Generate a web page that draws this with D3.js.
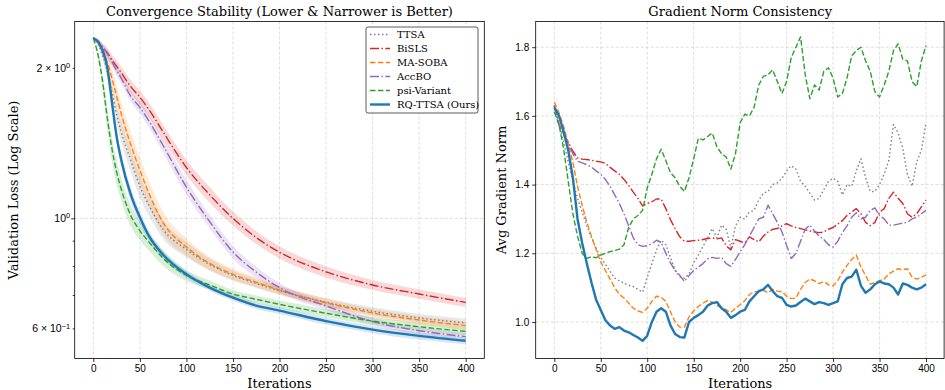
<!DOCTYPE html>
<html>
<head>
  <meta charset="utf-8">
  <title>Convergence Stability and Gradient Norm</title>
  <script src="https://d3js.org/d3.v7.min.js"></script>
  <style>
    body { margin: 0; background: #fff; }
    svg { font-family: "DejaVu Serif", serif; }
    .grid line { stroke: #b0b0b0; stroke-opacity: 0.55; stroke-dasharray: 3,2; stroke-width: 0.8; }
    .axis path, .axis line { stroke: #000; stroke-width: 0.8; }
    .axis text { font-size: 10px; fill: #000; }
    .title { font-size: 13px; }
    .label { font-size: 13px; }
    .legend text { font-size: 10px; }
  </style>
</head>
<body>
  <script>
    const names = ["TTSA", "BiSLS", "MA-SOBA", "AccBO", "psi-Variant", "RQ-TTSA (Ours)"];

    // left panel: validation loss (mean) and spread, sampled at these iterations
    const iterLoss = [0, 5, 10, 15, 20, 25, 30, 40, 50, 60, 75, 100, 125, 150, 175, 200, 250, 300, 350, 400];
    const lossTTSA   = [2.30, 2.24, 2.12, 1.97, 1.79, 1.62, 1.49, 1.31, 1.16, 1.06, 0.95, 0.866, 0.808, 0.768, 0.740, 0.716, 0.679, 0.651, 0.631, 0.617];
    const lossBiSLS  = [2.30, 2.26, 2.20, 2.15, 2.08, 2.02, 1.96, 1.84, 1.75, 1.65, 1.49, 1.265, 1.115, 1.0, 0.915, 0.855, 0.781, 0.735, 0.705, 0.678];
    const lossMASOBA = [2.30, 2.26, 2.17, 2.06, 1.91, 1.76, 1.62, 1.41, 1.25, 1.12, 0.98, 0.876, 0.812, 0.772, 0.744, 0.718, 0.677, 0.646, 0.625, 0.609];
    const lossAccBO  = [2.30, 2.27, 2.21, 2.14, 2.06, 1.98, 1.91, 1.76, 1.67, 1.565, 1.40, 1.155, 0.985, 0.856, 0.78, 0.726, 0.667, 0.621, 0.595, 0.579];
    const lossPsi    = [2.30, 2.13, 1.88, 1.59, 1.38, 1.24, 1.145, 1.015, 0.945, 0.895, 0.832, 0.768, 0.735, 0.705, 0.688, 0.672, 0.645, 0.622, 0.606, 0.593];
    const lossRQ     = [2.30, 2.26, 2.17, 2.01, 1.71, 1.46, 1.31, 1.12, 1.005, 0.92, 0.845, 0.772, 0.726, 0.693, 0.668, 0.653, 0.622, 0.598, 0.581, 0.568];

    const sdTTSA   = [0, 0.02, 0.04, 0.06, 0.07, 0.07, 0.07, 0.065, 0.06, 0.05, 0.04, 0.03, 0.022, 0.018, 0.015, 0.013, 0.012, 0.012, 0.012, 0.012];
    const sdBiSLS  = [0, 0.03, 0.04, 0.05, 0.05, 0.055, 0.055, 0.055, 0.055, 0.055, 0.05, 0.045, 0.04, 0.032, 0.027, 0.024, 0.02, 0.017, 0.015, 0.014];
    const sdMASOBA = [0, 0.03, 0.06, 0.08, 0.09, 0.09, 0.09, 0.085, 0.075, 0.065, 0.05, 0.035, 0.025, 0.02, 0.017, 0.015, 0.013, 0.012, 0.012, 0.012];
    const sdAccBO  = [0, 0.02, 0.03, 0.04, 0.045, 0.045, 0.045, 0.045, 0.045, 0.045, 0.045, 0.04, 0.03, 0.025, 0.02, 0.016, 0.012, 0.01, 0.01, 0.01];
    const sdPsi    = [0, 0.05, 0.07, 0.08, 0.08, 0.07, 0.06, 0.05, 0.04, 0.035, 0.03, 0.02, 0.015, 0.013, 0.012, 0.012, 0.012, 0.012, 0.012, 0.012];
    const sdRQ     = [0, 0.02, 0.03, 0.04, 0.045, 0.045, 0.04, 0.035, 0.03, 0.022, 0.016, 0.012, 0.01, 0.01, 0.01, 0.01, 0.01, 0.01, 0.01, 0.01];

    // right panel: average gradient norm, every 5 iterations from 0 to 400
    const iterGrad = d3.range(0, 401, 5);
    const gradTTSA = [1.63, 1.575, 1.525, 1.466, 1.41, 1.36, 1.32, 1.28, 1.245, 1.215, 1.188, 1.168, 1.148, 1.128, 1.12, 1.113, 1.107, 1.103, 1.095, 1.087,
      1.13, 1.17, 1.21, 1.238, 1.225, 1.188, 1.15, 1.132, 1.127, 1.14, 1.172, 1.195, 1.22, 1.245, 1.272, 1.245, 1.282, 1.27, 1.215, 1.28,
      1.305, 1.30, 1.32, 1.325, 1.355, 1.375, 1.38, 1.40, 1.405, 1.418, 1.44, 1.455, 1.445, 1.41, 1.395, 1.375, 1.355, 1.36, 1.385, 1.41,
      1.418, 1.41, 1.37, 1.40, 1.395, 1.44, 1.475, 1.42, 1.38, 1.38, 1.40, 1.43, 1.47, 1.575, 1.55, 1.505, 1.43, 1.395, 1.466, 1.50, 1.58];
    const gradBiSLS = [1.63, 1.575, 1.545, 1.524, 1.497, 1.478, 1.474, 1.473, 1.471, 1.468, 1.466, 1.462, 1.45, 1.44, 1.43, 1.415, 1.398, 1.378, 1.36, 1.338,
      1.345, 1.35, 1.358, 1.358, 1.33, 1.298, 1.272, 1.248, 1.235, 1.235, 1.237, 1.238, 1.24, 1.243, 1.245, 1.242, 1.245, 1.222, 1.21, 1.24,
      1.235, 1.23, 1.248, 1.24, 1.233, 1.25, 1.262, 1.27, 1.272, 1.28, 1.286, 1.28, 1.275, 1.272, 1.268, 1.265, 1.262, 1.26, 1.262, 1.27,
      1.275, 1.285, 1.295, 1.31, 1.32, 1.33, 1.315, 1.29, 1.28, 1.29, 1.32, 1.33, 1.36, 1.378, 1.36, 1.345, 1.315, 1.305, 1.315, 1.335, 1.355];
    const gradMASOBA = [1.64, 1.61, 1.57, 1.52, 1.465, 1.395, 1.34, 1.29, 1.25, 1.21, 1.175, 1.15, 1.125, 1.10, 1.08, 1.07, 1.055, 1.04, 1.032, 1.028,
      1.04, 1.06, 1.075, 1.072, 1.06, 1.03, 1.0, 0.985, 0.985, 1.015, 1.032, 1.045, 1.055, 1.062, 1.058, 1.048, 1.042, 1.035, 1.028, 1.04,
      1.05, 1.062, 1.08, 1.088, 1.088, 1.092, 1.085, 1.095, 1.09, 1.088, 1.075, 1.068, 1.07, 1.095, 1.115, 1.125, 1.12, 1.112, 1.118, 1.108,
      1.105, 1.12, 1.145, 1.165, 1.182, 1.195, 1.16, 1.135, 1.11, 1.115, 1.12, 1.125, 1.14, 1.148, 1.155, 1.152, 1.155, 1.13, 1.125, 1.13, 1.137];
    const gradAccBO = [1.63, 1.575, 1.545, 1.52, 1.49, 1.468, 1.463, 1.458, 1.451, 1.44, 1.43, 1.415, 1.395, 1.37, 1.345, 1.315, 1.28, 1.245, 1.225, 1.22,
      1.222, 1.228, 1.238, 1.232, 1.20, 1.172, 1.15, 1.136, 1.118, 1.135, 1.15, 1.16, 1.17, 1.184, 1.188, 1.185, 1.188, 1.17, 1.162, 1.182,
      1.204, 1.225, 1.25, 1.275, 1.30, 1.305, 1.34, 1.315, 1.29, 1.262, 1.223, 1.185, 1.20, 1.235, 1.27, 1.282, 1.265, 1.25, 1.24, 1.225,
      1.218, 1.235, 1.26, 1.28, 1.305, 1.318, 1.30, 1.305, 1.325, 1.332, 1.31, 1.30, 1.282, 1.282, 1.285, 1.288, 1.29, 1.30, 1.305, 1.315, 1.325];
    const gradPsi = [1.612, 1.575, 1.505, 1.41, 1.315, 1.25, 1.20, 1.185, 1.19, 1.187, 1.195, 1.20, 1.205, 1.208, 1.212, 1.225, 1.275, 1.30, 1.31, 1.325,
      1.39, 1.43, 1.475, 1.503, 1.47, 1.435, 1.42, 1.395, 1.38, 1.42, 1.475, 1.535, 1.53, 1.54, 1.55, 1.51, 1.49, 1.48, 1.445, 1.49,
      1.58, 1.605, 1.60, 1.625, 1.69, 1.715, 1.72, 1.734, 1.70, 1.665, 1.70, 1.77, 1.80, 1.83, 1.72, 1.65, 1.69, 1.675, 1.73, 1.74,
      1.71, 1.655, 1.665, 1.71, 1.775, 1.79, 1.80, 1.76, 1.73, 1.67, 1.655, 1.69, 1.73, 1.79, 1.81, 1.765, 1.76, 1.70, 1.685, 1.76, 1.805];
    const gradRQ = [1.625, 1.60, 1.555, 1.50, 1.42, 1.30, 1.23, 1.17, 1.115, 1.065, 1.035, 1.005, 0.99, 0.98, 0.985, 0.975, 0.97, 0.962, 0.955, 0.945,
      0.96, 1.00, 1.03, 1.04, 1.03, 0.99, 0.965, 0.956, 0.955, 1.0, 1.012, 1.02, 1.03, 1.048, 1.055, 1.058, 1.04, 1.03, 1.012, 1.02,
      1.03, 1.035, 1.06, 1.075, 1.09, 1.095, 1.108, 1.09, 1.075, 1.07, 1.05, 1.045, 1.048, 1.058, 1.068, 1.06, 1.052, 1.058, 1.055, 1.05,
      1.055, 1.06, 1.11, 1.128, 1.132, 1.152, 1.105, 1.085, 1.095, 1.11, 1.118, 1.112, 1.11, 1.10, 1.08, 1.112, 1.108, 1.10, 1.095, 1.10, 1.11];

    const xTicks = [0, 50, 100, 150, 200, 250, 300, 350, 400];
    const gradTicks = [1.0, 1.2, 1.4, 1.6, 1.8];

    // styles per series, same order as names
    const styles = [
      { color: "#7f7f7f", dash: "1.5,2.5", width: 1.4 },
      { color: "#d62728", dash: "9,2.4,1.5,2.4", width: 1.4 },
      { color: "#ff7f0e", dash: "5.5,2.4", width: 1.4 },
      { color: "#9467bd", dash: "9,2.4,1.5,2.4", width: 1.4 },
      { color: "#2ca02c", dash: "5.5,2.4", width: 1.4 },
      { color: "#1f77b4", dash: null, width: 2.4 }
    ];
    const lossSeries = [lossTTSA, lossBiSLS, lossMASOBA, lossAccBO, lossPsi, lossRQ];
    const sdSeries = [sdTTSA, sdBiSLS, sdMASOBA, sdAccBO, sdPsi, sdRQ];
    const gradSeries = [gradTTSA, gradBiSLS, gradMASOBA, gradAccBO, gradPsi, gradRQ];

    const width = 945, height = 390;
    const plotTop = 21.5, plotBottom = 358.5;

    const svg = d3.select("body").append("svg")
      .attr("width", width)
      .attr("height", height);

    // ---------- left panel ----------
    const xL = d3.scaleLinear().domain([-20, 420]).range([74.7, 484.3]);
    const yL = d3.scaleLog().domain([0.5233, 2.483]).range([plotBottom, plotTop]);

    const gL = svg.append("g");
    gL.append("clipPath").attr("id", "clipL").append("rect")
      .attr("x", xL.range()[0]).attr("y", plotTop)
      .attr("width", xL.range()[1] - xL.range()[0]).attr("height", plotBottom - plotTop);

    const gridL = gL.append("g").attr("class", "grid");
    gridL.selectAll(".vx").data(xTicks).join("line")
      .attr("x1", d => xL(d)).attr("x2", d => xL(d))
      .attr("y1", plotTop).attr("y2", plotBottom);
    gridL.append("line")
      .attr("x1", xL.range()[0]).attr("x2", xL.range()[1])
      .attr("y1", yL(1)).attr("y2", yL(1));

    const plotL = gL.append("g").attr("clip-path", "url(#clipL)");

    lossSeries.forEach((vals, k) => {
      const pts = iterLoss.map((it, i) => ({ it, v: vals[i], s: sdSeries[k][i] }));
      plotL.append("path")
        .datum(pts)
        .attr("fill", styles[k].color)
        .attr("fill-opacity", 0.18)
        .attr("stroke", "none")
        .attr("d", d3.area()
          .curve(d3.curveMonotoneX)
          .x(d => xL(d.it))
          .y0(d => yL(d.v - d.s))
          .y1(d => yL(d.v + d.s)));
    });

    lossSeries.forEach((vals, k) => {
      const pts = iterLoss.map((it, i) => ({ it, v: vals[i] }));
      plotL.append("path")
        .datum(pts)
        .attr("fill", "none")
        .attr("stroke", styles[k].color)
        .attr("stroke-width", styles[k].width)
        .attr("stroke-dasharray", styles[k].dash)
        .attr("d", d3.line()
          .curve(d3.curveMonotoneX)
          .x(d => xL(d.it))
          .y(d => yL(d.v)));
    });

    // axes
    gL.append("g").attr("class", "axis")
      .attr("transform", `translate(0,${plotBottom})`)
      .call(d3.axisBottom(xL).tickValues(xTicks).tickSize(3.5).tickPadding(3).tickFormat(d3.format("d")))
      .call(g => g.select(".domain").remove());

    const yAxisL = gL.append("g").attr("class", "axis")
      .attr("transform", `translate(${xL.range()[0]},0)`)
      .call(d3.axisLeft(yL).tickValues([1]).tickSize(3.5).tickFormat(() => ""))
      .call(g => g.select(".domain").remove());
    yAxisL.selectAll(".minor").data([0.6, 0.7, 0.8, 0.9, 2]).join("line")
      .attr("class", "minor")
      .attr("x1", -2).attr("x2", 0)
      .attr("y1", d => yL(d)).attr("y2", d => yL(d));

    const logLabels = [{ v: 2, m: "2 \u00d7 10", e: "0" }, { v: 1, m: "10", e: "0" }, { v: 0.6, m: "6 \u00d7 10", e: "\u22121" }];
    logLabels.forEach(l => {
      const t = yAxisL.append("text")
        .attr("x", -4.5).attr("y", yL(l.v))
        .attr("dy", "0.32em")
        .attr("text-anchor", "end")
        .style("font-size", "10.5px");
      t.append("tspan").text(l.m);
      t.append("tspan").attr("dy", "-0.45em").style("font-size", "7.5px").text(l.e);
    });

    gL.append("rect")
      .attr("x", xL.range()[0]).attr("y", plotTop)
      .attr("width", xL.range()[1] - xL.range()[0]).attr("height", plotBottom - plotTop)
      .attr("fill", "none").attr("stroke", "#000").attr("stroke-width", 0.8);

    gL.append("text").attr("class", "title")
      .attr("x", (xL.range()[0] + xL.range()[1]) / 2).attr("y", 16)
      .attr("text-anchor", "middle")
      .text("Convergence Stability (Lower & Narrower is Better)");
    gL.append("text").attr("class", "label")
      .attr("x", (xL.range()[0] + xL.range()[1]) / 2).attr("y", 388)
      .attr("text-anchor", "middle")
      .text("Iterations");
    gL.append("text").attr("class", "label")
      .attr("transform", `translate(18,${(plotTop + plotBottom) / 2}) rotate(-90)`)
      .attr("text-anchor", "middle")
      .text("Validation Loss (Log Scale)");

    // legend
    const leg = gL.append("g").attr("class", "legend").attr("transform", "translate(366,27)");
    leg.append("rect")
      .attr("width", 112).attr("height", 86).attr("rx", 2)
      .attr("fill", "#fff").attr("fill-opacity", 0.85)
      .attr("stroke", "#333").attr("stroke-width", 0.8);
    names.forEach((n, k) => {
      const yy = 7.5 + k * 14;
      leg.append("line")
        .attr("x1", 4).attr("x2", 24).attr("y1", yy).attr("y2", yy)
        .attr("stroke", styles[k].color)
        .attr("stroke-width", styles[k].width)
        .attr("stroke-dasharray", styles[k].dash);
      leg.append("text")
        .attr("x", 31).attr("y", yy).attr("dy", "0.35em")
        .text(n);
    });

    // ---------- right panel ----------
    const xR = d3.scaleLinear().domain([-20, 420]).range([535.7, 944.6]);
    const yR = d3.scaleLinear().domain([0.8937, 1.8748]).range([plotBottom, plotTop]);

    const gR = svg.append("g");
    gR.append("clipPath").attr("id", "clipR").append("rect")
      .attr("x", xR.range()[0]).attr("y", plotTop)
      .attr("width", xR.range()[1] - xR.range()[0]).attr("height", plotBottom - plotTop);

    const gridR = gR.append("g").attr("class", "grid");
    gridR.selectAll(".vx").data(xTicks).join("line")
      .attr("x1", d => xR(d)).attr("x2", d => xR(d))
      .attr("y1", plotTop).attr("y2", plotBottom);
    gridR.selectAll(".hy").data(gradTicks).join("line")
      .attr("x1", xR.range()[0]).attr("x2", xR.range()[1])
      .attr("y1", d => yR(d)).attr("y2", d => yR(d));

    const plotR = gR.append("g").attr("clip-path", "url(#clipR)");
    gradSeries.forEach((vals, k) => {
      const pts = iterGrad.map((it, i) => ({ it, v: vals[i] }));
      plotR.append("path")
        .datum(pts)
        .attr("fill", "none")
        .attr("stroke", styles[k].color)
        .attr("stroke-width", styles[k].width)
        .attr("stroke-dasharray", styles[k].dash)
        .attr("stroke-linejoin", "round")
        .attr("d", d3.line()
          .x(d => xR(d.it))
          .y(d => yR(d.v)));
    });

    gR.append("g").attr("class", "axis")
      .attr("transform", `translate(0,${plotBottom})`)
      .call(d3.axisBottom(xR).tickValues(xTicks).tickSize(3.5).tickPadding(3).tickFormat(d3.format("d")))
      .call(g => g.select(".domain").remove());
    gR.append("g").attr("class", "axis")
      .attr("transform", `translate(${xR.range()[0]},0)`)
      .call(d3.axisLeft(yR).tickValues(gradTicks).tickSize(3.5).tickPadding(3).tickFormat(d3.format(".1f")))
      .call(g => g.select(".domain").remove());

    gR.append("rect")
      .attr("x", xR.range()[0]).attr("y", plotTop)
      .attr("width", xR.range()[1] - xR.range()[0] - 0.5).attr("height", plotBottom - plotTop)
      .attr("fill", "none").attr("stroke", "#000").attr("stroke-width", 0.8);

    gR.append("text").attr("class", "title")
      .attr("x", (xR.range()[0] + xR.range()[1]) / 2).attr("y", 16)
      .attr("text-anchor", "middle")
      .text("Gradient Norm Consistency");
    gR.append("text").attr("class", "label")
      .attr("x", (xR.range()[0] + xR.range()[1]) / 2).attr("y", 388)
      .attr("text-anchor", "middle")
      .text("Iterations");
    gR.append("text").attr("class", "label")
      .attr("transform", `translate(506,${(plotTop + plotBottom) / 2}) rotate(-90)`)
      .attr("text-anchor", "middle")
      .text("Avg Gradient Norm");
  </script>
</body>
</html>
